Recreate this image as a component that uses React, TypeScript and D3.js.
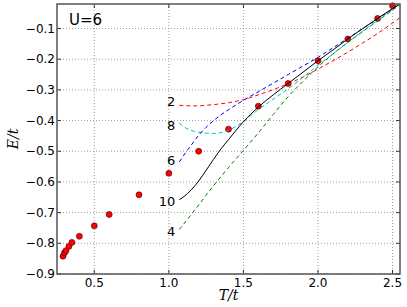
import React from 'react';
import * as d3 from 'd3';

// measured points (red dots)
const dotT = [0.29, 0.3, 0.31, 0.33, 0.35, 0.4, 0.5, 0.6, 0.8, 1.0, 1.2, 1.4, 1.6, 1.8, 2.0, 2.2, 2.4, 2.5];
const dotE = [-0.842, -0.831, -0.824, -0.81, -0.797, -0.777, -0.743, -0.706, -0.642, -0.572, -0.5, -0.428, -0.353, -0.279, -0.205, -0.134, -0.067, -0.026];

// curves, one per system size
const curveT = [1.07, 1.1, 1.15, 1.2, 1.25, 1.3, 1.35, 1.4, 1.45, 1.5, 1.6, 1.7, 1.8, 1.9, 2.0, 2.1, 2.2, 2.3, 2.4, 2.5, 2.55];
const e2 = [-0.35, -0.351, -0.352, -0.352, -0.35, -0.348, -0.345, -0.342, -0.337, -0.332, -0.316, -0.299, -0.28, -0.258, -0.232, -0.205, -0.177, -0.147, -0.116, -0.082, -0.065];
const e8 = [-0.408, -0.42, -0.432, -0.438, -0.441, -0.442, -0.439, -0.432, -0.419, -0.403, -0.364, -0.33, -0.296, -0.259, -0.22, -0.183, -0.145, -0.108, -0.072, -0.037, -0.02];
const e6 = [-0.535, -0.513, -0.48, -0.448, -0.422, -0.4, -0.381, -0.365, -0.349, -0.334, -0.306, -0.278, -0.25, -0.222, -0.194, -0.163, -0.132, -0.1, -0.068, -0.036, -0.02];
const e10 = [-0.658, -0.648, -0.626, -0.597, -0.562, -0.526, -0.492, -0.462, -0.432, -0.404, -0.356, -0.316, -0.279, -0.242, -0.205, -0.17, -0.134, -0.1, -0.067, -0.035, -0.02];
const e4 = [-0.755, -0.737, -0.706, -0.675, -0.643, -0.612, -0.582, -0.553, -0.525, -0.497, -0.44, -0.38, -0.322, -0.272, -0.225, -0.183, -0.145, -0.11, -0.075, -0.04, -0.022];

const seriesNames = ['2', '8', '6', '10', '4'];
const seriesValues = [e2, e8, e6, e10, e4];
const seriesColors = ['#ff0000', '#00bfbf', '#0000ff', '#000000', '#008000'];
const labelShift = [-4, 2, -2, 2, 2];

const xTicks = [0.5, 1.0, 1.5, 2.0, 2.5];
const yTicks = [-0.9, -0.8, -0.7, -0.6, -0.5, -0.4, -0.3, -0.2, -0.1];

const W = 407, H = 307;
const margin = {top: 4, right: 7, bottom: 33, left: 57};

export default function App() {
    const x = d3.scaleLinear().domain([0.25, 2.55]).range([margin.left, W - margin.right]);
    const y = d3.scaleLinear().domain([-0.9, -0.02]).range([H - margin.bottom, margin.top]);
    const line = d3.line<number>()
        .x((_, i) => x(curveT[i]))
        .y((d) => y(d))
        .curve(d3.curveMonotoneX);

    const x0 = margin.left, x1 = W - margin.right, y0 = margin.top, y1 = H - margin.bottom;
    const font = '"DejaVu Sans", sans-serif';
    const fmt = (v: number) => v.toFixed(1).replace('-', '\u2212');

    return (
        <svg width={W} height={H} style={{position: 'absolute', left: 0, top: 0, background: '#fff'}}>
            {/* grid */}
            <g stroke="#888" strokeWidth={0.8} strokeDasharray="1,2">
                {xTicks.map((t) => <line key={'gx' + t} x1={x(t)} x2={x(t)} y1={y0} y2={y1}/>)}
                {yTicks.map((t) => <line key={'gy' + t} x1={x0} x2={x1} y1={y(t)} y2={y(t)}/>)}
            </g>
            {/* ticks, inward on all sides */}
            <g stroke="#000" strokeWidth={0.8}>
                {xTicks.map((t) => <g key={'tx' + t}>
                    <line x1={x(t)} x2={x(t)} y1={y1} y2={y1 - 4}/>
                    <line x1={x(t)} x2={x(t)} y1={y0} y2={y0 + 4}/>
                </g>)}
                {yTicks.map((t) => <g key={'ty' + t}>
                    <line x1={x0} x2={x0 + 4} y1={y(t)} y2={y(t)}/>
                    <line x1={x1} x2={x1 - 4} y1={y(t)} y2={y(t)}/>
                </g>)}
            </g>
            {/* dots */}
            {dotT.map((t, i) => (
                <circle key={'d' + i} cx={x(t)} cy={y(dotE[i])} r={3} fill="#ff0000" stroke="#400" strokeWidth={0.6}/>
            ))}
            {/* curves */}
            {seriesValues.map((vals, i) => (
                <path key={'s' + i} d={line(vals) || ''} fill="none" stroke={seriesColors[i]}
                      strokeWidth={1} strokeDasharray={seriesNames[i] === '10' ? undefined : '4,3'}/>
            ))}
            {seriesValues.map((vals, i) => (
                <text key={'l' + i} x={x(curveT[0]) - 4} y={y(vals[0]) + labelShift[i]} textAnchor="end"
                      dominantBaseline="central" fontFamily={font} fontSize={13}>{seriesNames[i]}</text>
            ))}
            {/* frame */}
            <rect x={x0} y={y0} width={x1 - x0} height={y1 - y0} fill="none" stroke="#555" strokeWidth={1.5}/>
            {/* tick labels */}
            {xTicks.map((t) => (
                <text key={'xl' + t} x={x(t)} y={y1 + 13} textAnchor="middle" fontFamily={font} fontSize={12}>{t.toFixed(1)}</text>
            ))}
            {yTicks.map((t) => (
                <text key={'yl' + t} x={x0 - 2} y={y(t)} textAnchor="end" dominantBaseline="central"
                      fontFamily={font} fontSize={12}>{fmt(t)}</text>
            ))}
            <text x={69} y={20} dominantBaseline="central" fontFamily={font} fontSize={15}>U=6</text>
            <text x={(x0 + x1) / 2} y={H - 7} textAnchor="middle" fontFamily='"DejaVu Serif", serif'
                  fontStyle="italic" fontSize={14}>T/t</text>
            <text transform={`translate(18,${(y0 + y1) / 2}) rotate(-90)`} textAnchor="middle"
                  fontFamily='"DejaVu Serif", serif' fontStyle="italic" fontSize={14}>E/t</text>
        </svg>
    );
}
